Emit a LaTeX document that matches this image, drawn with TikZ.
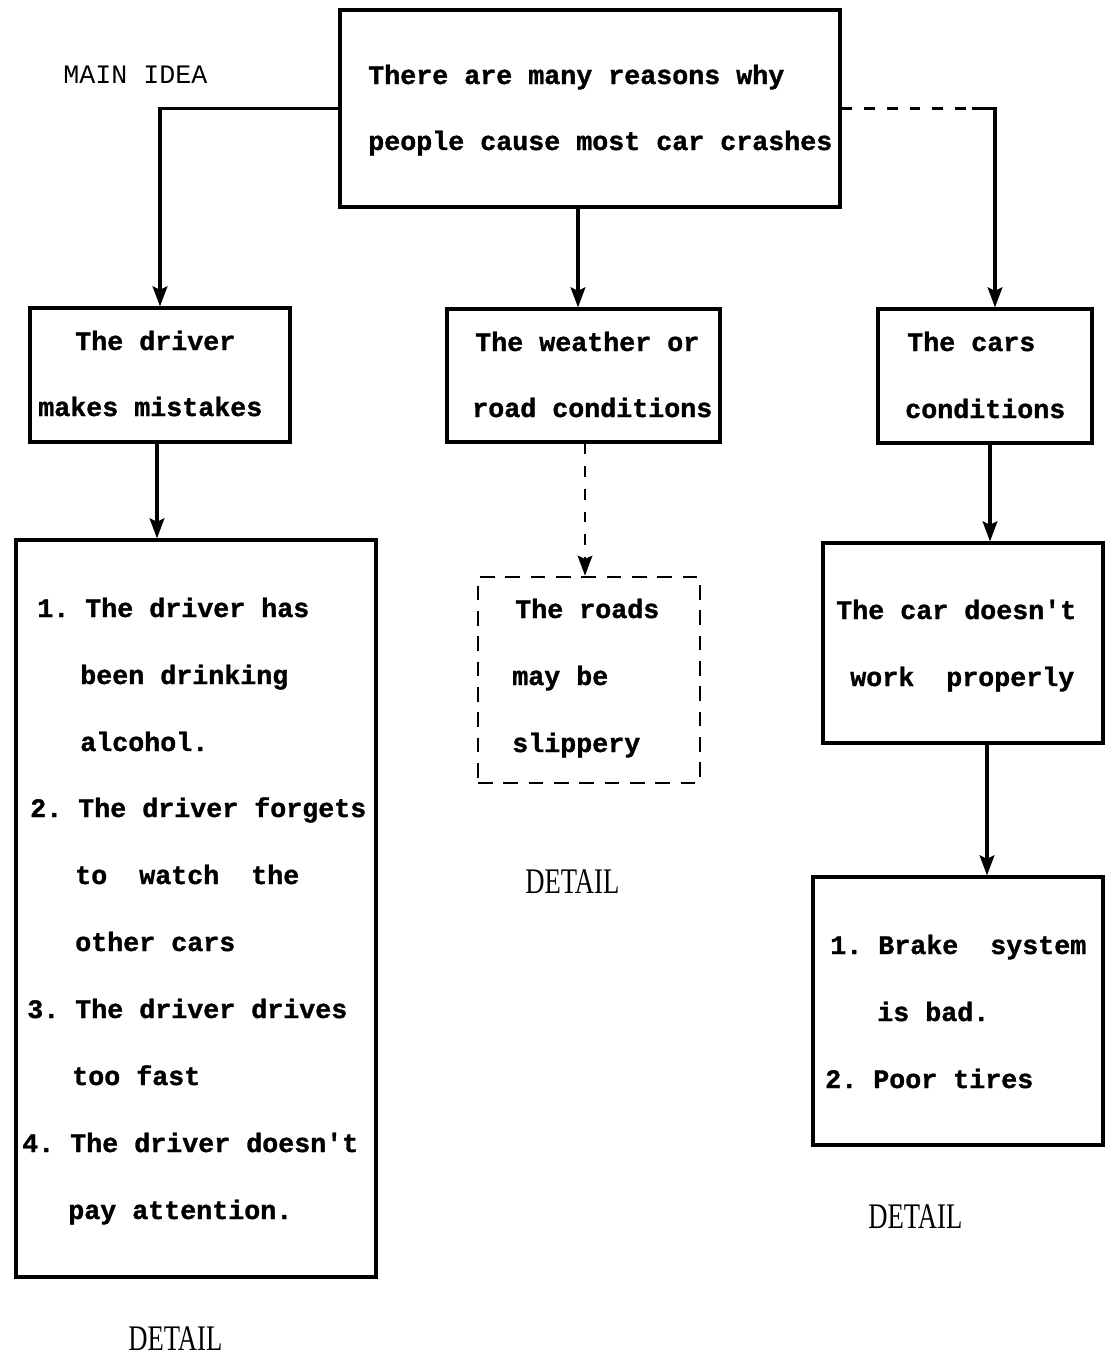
\documentclass[tikz,border=0pt]{standalone}
\usepackage{fontspec}
\usetikzlibrary{arrows.meta,fit}
\newfontfamily\typfont{Liberation Mono}[BoldFeatures={FakeBold=1.2}]
\newfontfamily\labfont{Liberation Serif}
\frenchspacing
\begin{document}
\begin{tikzpicture}[x=0.75pt,y=-0.75pt,
  box/.style={draw,line width=2.4pt,inner sep=0pt},
  dbox/.style={box,line width=2pt,dash pattern=on 11pt off 8pt},
  txt/.style={anchor=base west,inner sep=0pt,font=\typfont\bfseries\fontsize{20}{24}\selectfont},
  lab/.style={anchor=base west,inner sep=0pt,font=\typfont\fontsize{20}{24}\selectfont},
  det/.style={anchor=base west,inner sep=0pt,font=\labfont\fontsize{20}{24}\selectfont},
  conn/.style={line width=2.4pt},
  arr/.style={conn,-{Stealth[length=15pt,width=11pt,inset=2.5pt]}},
  darr/.style={arr,line width=2pt,dash pattern=on 8pt off 9pt}]
\useasboundingbox (0,0) rectangle (1105,1357);

% boxes
\node[box,fit={(340,10) (840,207)}] (main) {};
\node[box,fit={(30,308) (290,442)}] (driver) {};
\node[box,fit={(447,309) (720,442)}] (weather) {};
\node[box,fit={(878,309) (1092,443)}] (cars) {};
\node[box,fit={(16,540) (376,1277)}] (list) {};
\node[dbox,fit={(478,577) (700,783)}] (roads) {};
\node[box,fit={(823,543) (1103,743)}] (work) {};
\node[box,fit={(813,877) (1103,1145)}] (brakes) {};

% labels
\node[lab] (mainidea) at (63,83) {MAIN IDEA};
\node[det] (det1) at (525,893) {\scalebox{1}[1.35]{DETAIL}};
\node[det] (det2) at (868,1228) {\scalebox{1}[1.35]{DETAIL}};
\node[det] (det3) at (128,1350) {\scalebox{1}[1.35]{DETAIL}};

% texts
\node[txt] (m1) at (368,84) {There are many reasons why};
\node[txt] (m2) at (368,150) {people cause most car crashes};

\node[txt] (d1) at (75,350) {The driver};
\node[txt] (d2) at (38,416) {makes mistakes};

\node[txt] (w1) at (475,351) {The weather or};
\node[txt] (w2) at (472,417) {road conditions};

\node[txt] (c1) at (907,351) {The cars};
\node[txt] (c2) at (905,418) {conditions};

\node[txt] (l1) at (37,617) {1. The driver has};
\node[txt] (l2) at (80,684) {been drinking};
\node[txt] (l3) at (80,751) {alcohol.};
\node[txt] (l4) at (30,817) {2. The driver forgets};
\node[txt] (l5) at (75,884) {to\ \ watch\ \ the};
\node[txt] (l6) at (75,951) {other cars};
\node[txt] (l7) at (27,1018) {3. The driver drives};
\node[txt] (l8) at (72,1085) {too fast};
\node[txt] (l9) at (22,1152) {4. The driver doesn't};
\node[txt] (l10) at (68,1219) {pay attention.};

\node[txt] (r1) at (515,618) {The roads};
\node[txt] (r2) at (512,685) {may be};
\node[txt] (r3) at (512,752) {slippery};

\node[txt] (k1) at (836,619) {The car doesn't};
\node[txt] (k2) at (850,686) {work\ \ properly};

\node[txt] (b1) at (830,954) {1. Brake\ \ system};
\node[txt] (b2) at (877,1021) {is bad.};
\node[txt] (b3) at (825,1088) {2. Poor tires};

% helper x positions
\coordinate (xw) at (578,0);
\coordinate (xc) at (995,0);
\coordinate (xcorner) at (972,0);
\coordinate (xl) at (157,0);
\coordinate (xr) at (585,0);
\coordinate (xk) at (990,0);
\coordinate (xb) at (987,0);

% connectors
\draw[arr] (main.west) -| (driver.north);
\draw[arr] (main.south -| xw) -- (weather.north -| xw);
\draw[conn,line width=2pt,dash pattern=on 8pt off 9pt] (main.east) -- (main.east -| xcorner);
\draw[arr] (main.east -| xcorner) -| (cars.north -| xc);
\draw[arr] (driver.south -| xl) -- (list.north -| xl);
\draw[darr] (weather.south -| xr) -- (roads.north -| xr);
\draw[arr] (cars.south -| xk) -- (work.north -| xk);
\draw[arr] (work.south -| xb) -- (brakes.north -| xb);
\end{tikzpicture}
\end{document}
